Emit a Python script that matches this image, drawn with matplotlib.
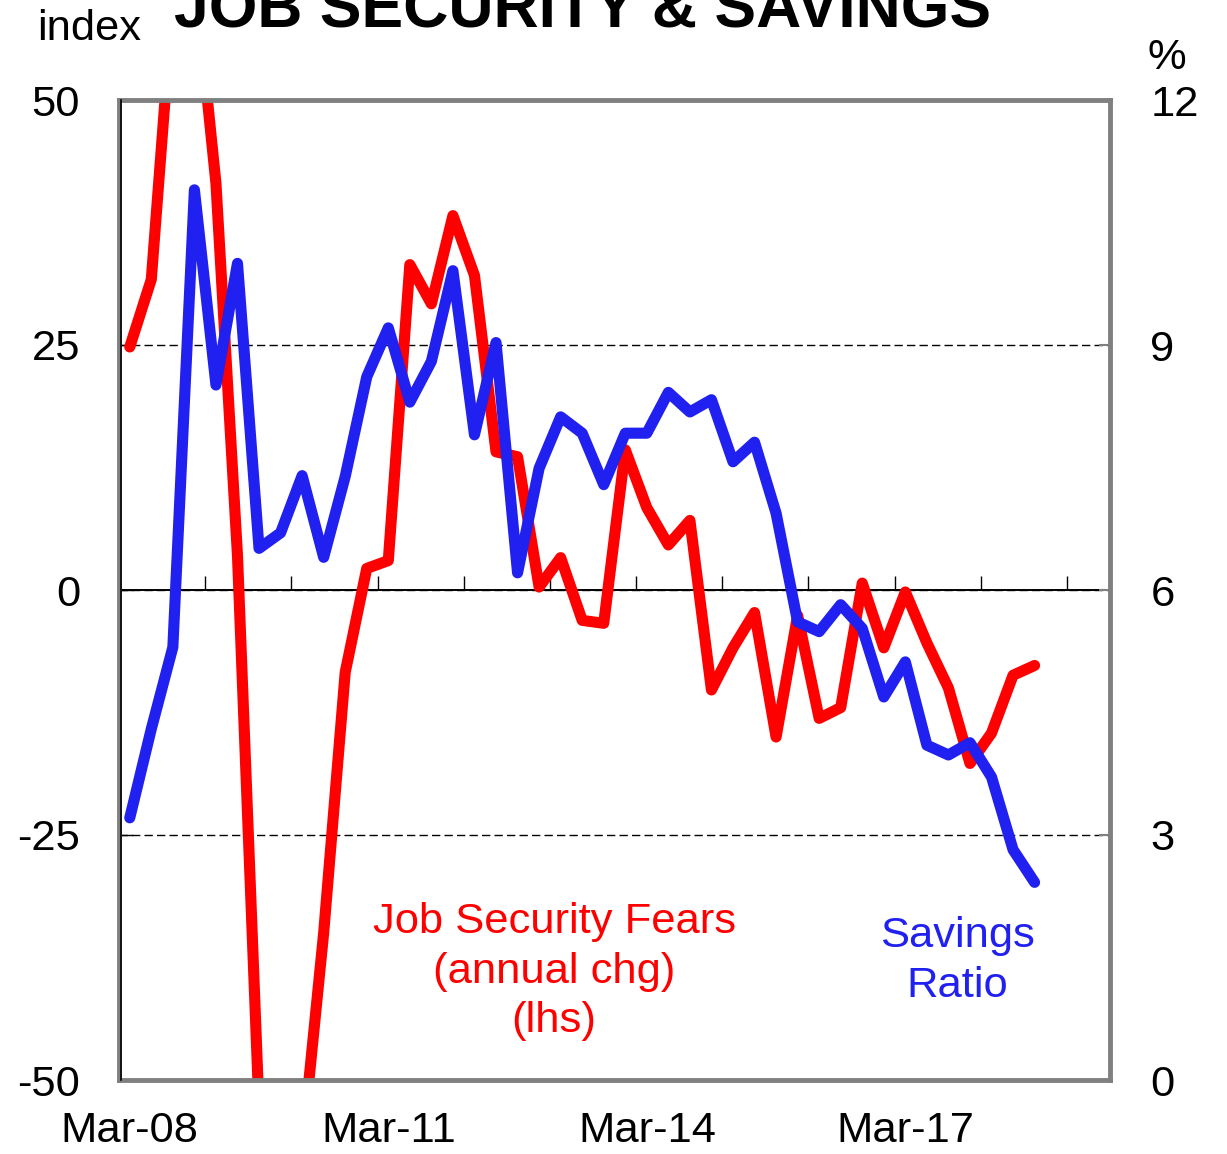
import numpy as np
import pandas as pd
import matplotlib
matplotlib.use("Agg")
import matplotlib.pyplot as plt

plt.rcParams['font.family'] = ['Liberation Sans', 'DejaVu Sans']

# Quarterly observations, Mar-08 onwards
quarters = pd.period_range('2008Q1', periods=43, freq='Q')
n_slots = 46  # axis spans Mar-08 .. Jun-19

# Job security fears, annual change (index, lhs)
job_fears = [24.8, 31.7, 60.5, 63.0, 41.5, 3.5, -53.0, -62.0, -57.0, -35.0,
             -8.4, 2.2, 3.0, 33.2, 29.2, 38.2, 32.1, 14.1, 13.6, 0.3,
             3.3, -3.1, -3.4, 14.3, 8.4, 4.6, 7.1, -10.2, -5.9, -2.3,
             -15.0, -2.6, -13.1, -12.0, 0.7, -5.9, -0.2, -5.4, -10.0, -17.7,
             -14.6, -8.7, -7.7]

# Household savings ratio (%, rhs)
savings_ratio = [3.21, 4.30, 5.30, 10.90, 8.51, 10.00, 6.51, 6.70, 7.40, 6.40,
                 7.39, 8.61, 9.21, 8.30, 8.80, 9.91, 7.90, 9.03, 6.21, 7.49,
                 8.12, 7.92, 7.29, 7.92, 7.92, 8.42, 8.18, 8.33, 7.57, 7.81,
                 6.94, 5.61, 5.49, 5.82, 5.53, 4.69, 5.12, 4.10, 3.98, 4.13,
                 3.71, 2.82, 2.42]

left_ticks = [-50, -25, 0, 25, 50]
right_ticks = [0, 3, 6, 9, 12]
x_label_pos = [0, 12, 24, 36]
x_labels = ['Mar-08', 'Mar-11', 'Mar-14', 'Mar-17']

RED = '#FF0000'
BLUE = '#2020F0'
GREY = '#808080'
FS = 31.3
LW = 8.0

W, H = 1227, 1154
fig = plt.figure(figsize=(W / 100, H / 100), dpi=100)
ax = fig.add_axes([119 / W, 1 - 1080 / H, (1110 - 119) / W, (1080 - 100) / H])

x = np.arange(len(quarters))

ax.set_xlim(-0.5, n_slots - 0.5)
ax.set_ylim(-50, 50)
ax.plot(x, job_fears, color=RED, lw=LW, solid_joinstyle='round',
        solid_capstyle='round', zorder=3)

ax.set_yticks(left_ticks)
ax.set_yticklabels([str(v) for v in left_ticks])
ax.tick_params(axis='y', direction='in', length=10, width=1, color='black',
               labelsize=FS, pad=28)
ax.set_xticks(x_label_pos)
ax.set_xticklabels(x_labels)
ax.tick_params(axis='x', length=0, labelsize=FS, pad=22)

ax.yaxis.grid(True, color='black', lw=1, linestyle=(0, (6, 3)))
ax.set_axisbelow(True)

for s in ax.spines.values():
    s.set_color(GREY)
    s.set_linewidth(3.5)
    s.set_zorder(5)

# Zero line with year-boundary ticks
zero_axis = ax.secondary_xaxis(0.5)
zero_axis.set_xticks(np.arange(4, n_slots, 4) - 0.5)
zero_axis.set_xticklabels([])
zero_axis.tick_params(axis='x', direction='out', length=10, width=1, color='black')
zero_axis.spines['top'].set_visible(True)
zero_axis.spines['top'].set_color('black')
zero_axis.spines['top'].set_linewidth(1.2)
zero_axis.spines['bottom'].set_visible(True)
zero_axis.spines['bottom'].set_color('black')
zero_axis.spines['bottom'].set_linewidth(1.2)

ax2 = ax.twinx()
ax2.set_ylim(0, 12)
ax2.plot(x, savings_ratio, color=BLUE, lw=LW, solid_joinstyle='round',
         solid_capstyle='round', zorder=4)
ax2.set_yticks(right_ticks)
ax2.set_yticklabels([str(v) for v in right_ticks])
ax2.tick_params(axis='y', direction='in', length=8, width=1.5, color=GREY,
                labelsize=FS, pad=29)
for side in ['top', 'bottom', 'right']:
    ax2.spines[side].set_visible(False)
ax2.spines['left'].set_color('black')
ax2.spines['left'].set_linewidth(1.2)
ax2.spines['left'].set_position(('outward', -1.5))

# Series labels (baseline refers to the last line)
ax.text(19.7, -45.1, 'Job Security Fears\n(annual chg)\n(lhs)', color=RED,
        fontsize=FS, ha='center', va='baseline', linespacing=1.3,
        transform=ax.transData)
ax2.text(38.4, 1.02, 'Savings\nRatio', color=BLUE, fontsize=FS,
         ha='center', va='baseline', linespacing=1.3)

# Title and axis unit labels
fig.text(583 / W, 1 - 28 / H, 'JOB SECURITY & SAVINGS', fontsize=45,
         fontweight='bold', ha='center', va='baseline')
fig.text(37 / W, 1 - 40 / H, 'index', fontsize=FS, ha='left', va='baseline')
fig.text(1167 / W, 1 - 69 / H, '%', fontsize=FS, ha='center', va='baseline')

fig.savefig('out.png', dpi=100, facecolor='white')
